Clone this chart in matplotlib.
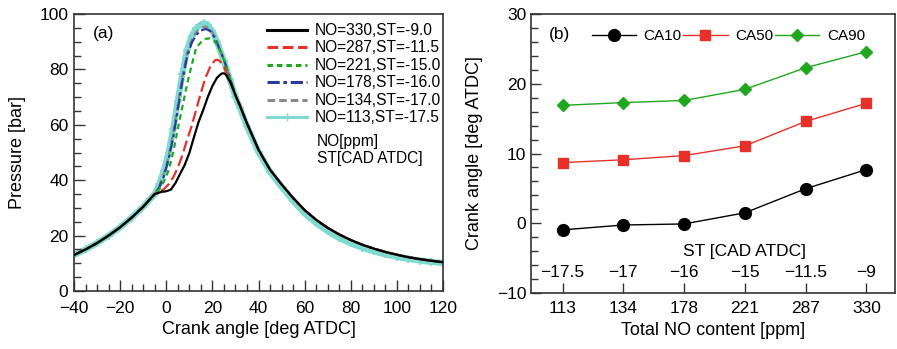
import matplotlib

matplotlib.use("Agg")
import matplotlib.pyplot as plt
from matplotlib.lines import Line2D
from matplotlib.ticker import MultipleLocator
from matplotlib.transforms import blended_transform_factory

plt.rcParams["font.family"] = ["Liberation Sans", "DejaVu Sans"]

# ---- panel (a): pressure traces -------------------------------------------
# shared motored compression part (all cases lie on top of each other)
comp_angle = [-40, -35, -30, -25, -20, -15, -10, -7, -5]
comp_p = [13.0, 15.0, 17.3, 20.0, 23.0, 26.5, 30.4, 33.2, 35.0]

# expansion tail (black, red, green, blue, grey overlap here)
tail_angle = [35, 40, 45, 50, 55, 60, 65, 70, 75, 80, 85, 90, 95, 100, 105, 110, 115, 120]
tail_p = [60.5, 51.0, 43.8, 38.5, 33.6, 29.2, 25.7, 22.8, 20.4, 18.4, 16.7, 15.3, 14.1, 13.1, 12.2, 11.5, 10.9, 10.4]
cyan_tail_p = [59.5, 50.2, 43.0, 37.6, 32.6, 28.0, 24.5, 21.6, 19.1, 17.2, 15.6, 14.3, 13.2, 12.3, 11.6, 11.0, 10.5, 10.1]

no330_angle = [-2, 0, 2, 4, 6, 8, 10, 12, 14, 16, 18, 20, 22, 24, 25, 26, 28, 30, 32]
no330_p = [35.8, 36.0, 36.6, 39.0, 42.3, 45.5, 49.8, 55.5, 61.0, 65.3, 70.0, 74.0, 77.0, 78.5, 78.6, 78.0, 75.0, 70.7, 66.8]

no287_angle = [-3, -1, 1, 3, 5, 7, 9, 11, 13, 15, 17, 19, 21, 22, 23, 25, 27, 30, 32]
no287_p = [35.8, 36.8, 38.5, 41.0, 44.5, 49.0, 54.5, 59.5, 65.5, 71.5, 77.0, 80.8, 83.2, 83.5, 83.2, 81.0, 77.0, 70.7, 66.8]

no221_angle = [-3, -1, 1, 3, 5, 7, 9, 11, 13, 15, 17, 19, 21, 23, 25, 27, 30, 32]
no221_p = [36.8, 39.5, 43.5, 50.0, 58.5, 66.5, 74.5, 81.5, 87.8, 89.8, 91.0, 91.2, 90.3, 87.5, 83.5, 78.5, 70.7, 66.8]

no178_angle = [-3, -1, 1, 3, 5, 7, 9, 11, 13, 15, 17, 19, 21, 23, 25, 27, 30, 32]
no178_p = [37.5, 41.5, 47.5, 55.5, 65.5, 76.0, 84.5, 89.5, 92.5, 94.0, 94.6, 94.0, 91.5, 87.5, 83.5, 78.5, 70.7, 66.8]

no134_angle = [-3, -1, 1, 3, 5, 7, 9, 11, 13, 15, 17, 19, 21, 23, 25, 27, 30, 32]
no134_p = [38.0, 42.5, 48.5, 57.0, 67.0, 77.5, 85.8, 90.8, 93.5, 95.0, 95.5, 94.8, 92.0, 88.0, 83.5, 78.5, 70.7, 66.8]

no113_angle = [-3, -1, 1, 3, 5, 7, 9, 11, 13, 15, 16.5, 18, 20, 22, 25, 27.5, 30, 32]
no113_p = [38.5, 43.5, 50.0, 58.5, 68.5, 78.5, 87.0, 92.0, 94.8, 96.2, 96.6, 96.0, 93.8, 90.0, 83.0, 76.5, 70.0, 66.0]

case_labels = [
    "NO=330,ST=-9.0",
    "NO=287,ST=-11.5",
    "NO=221,ST=-15.0",
    "NO=178,ST=-16.0",
    "NO=134,ST=-17.0",
    "NO=113,ST=-17.5",
]

# ---- panel (b): combustion phasing ----------------------------------------
no_ppm = ["113", "134", "178", "221", "287", "330"]
st_cad = ["\u221217.5", "\u221217", "\u221216", "\u221215", "\u221211.5", "\u22129"]
ca10 = [-0.95, -0.25, -0.1, 1.5, 4.95, 7.7]
ca50 = [8.7, 9.1, 9.7, 11.1, 14.6, 17.2]
ca90 = [16.9, 17.3, 17.6, 19.2, 22.3, 24.6]

RED = "#e8302a"
GREEN = "#1fa81f"
BLUE = "#2b3a9b"
GREY = "#8a8a8a"
CYAN = "#7fdad2"
SPINE = "#333333"
TICK_FS = 12.5
LABEL_FS = 13


def style_axes(ax):
    for side in ax.spines.values():
        side.set_color(SPINE)
        side.set_linewidth(1.2)
    ax.tick_params(which="both", direction="in", top=False, right=False,
                   colors=SPINE, labelcolor="black", labelsize=TICK_FS)
    ax.tick_params(which="major", length=8, width=1.0)
    ax.tick_params(which="minor", length=5, width=1.0)


fig = plt.figure(figsize=(8.97, 3.49), dpi=100)

# ---------------- (a)
ax = fig.add_axes([74 / 897, 58 / 349, 369 / 897, 277 / 349])

cyan_x = comp_angle + no113_angle + tail_angle
cyan_y = comp_p + no113_p + cyan_tail_p
ax.plot(cyan_x, cyan_y, color=CYAN, lw=4.5, solid_capstyle="butt", zorder=1)
ax.plot(cyan_x, cyan_y, color=CYAN, lw=0, marker="+", ms=6, mew=1.2, zorder=1)

ax.plot(comp_angle + no134_angle + tail_angle, comp_p + no134_p + tail_p,
        color=GREY, lw=1.6, dashes=(3, 2), zorder=2)
ax.plot(comp_angle + no178_angle + tail_angle, comp_p + no178_p + tail_p,
        color=BLUE, lw=1.6, dashes=(5, 1.5, 1.5, 1.5), zorder=3)
ax.plot(comp_angle + no221_angle + tail_angle, comp_p + no221_p + tail_p,
        color=GREEN, lw=1.6, dashes=(2.5, 1.8), zorder=4)
ax.plot(comp_angle + no287_angle + tail_angle, comp_p + no287_p + tail_p,
        color=RED, lw=1.6, dashes=(5, 2), zorder=5)
ax.plot(comp_angle + no330_angle + tail_angle, comp_p + no330_p + tail_p,
        color="black", lw=1.6, zorder=6)

ax.set_xlim(-40, 120)
ax.set_ylim(0, 100)
ax.xaxis.set_major_locator(MultipleLocator(20))
ax.xaxis.set_minor_locator(MultipleLocator(5))
ax.yaxis.set_major_locator(MultipleLocator(20))
ax.yaxis.set_minor_locator(MultipleLocator(5))
style_axes(ax)
ax.tick_params(axis="x", pad=7)
ax.tick_params(axis="y", pad=4)
ax.set_xlabel("Crank angle [deg ATDC]", fontsize=LABEL_FS, labelpad=4)
ax.set_ylabel("Pressure [bar]", fontsize=LABEL_FS, labelpad=10)

handles = [
    Line2D([], [], color="black", lw=2.2),
    Line2D([], [], color=RED, lw=2.2, dashes=(3.5, 1.5)),
    Line2D([], [], color=GREEN, lw=2.2, dashes=(1.8, 1.3)),
    Line2D([], [], color=BLUE, lw=2.2, dashes=(4, 1.2, 1.2, 1.2)),
    Line2D([], [], color=GREY, lw=2.2, dashes=(2.5, 1.3)),
    Line2D([], [], color=CYAN, lw=2.2, marker="+", ms=6, markevery=[1]),
]
ax.legend(handles, case_labels, loc="upper left", bbox_to_anchor=(0.505, 0.99),
          frameon=False, fontsize=11.2, handlelength=2.6, handletextpad=0.5,
          labelspacing=0.16, borderaxespad=0.0)
ax.text(0.658, 0.565, "NO[ppm]\nST[CAD ATDC]", transform=ax.transAxes,
        fontsize=11.2, va="top", ha="left", linespacing=1.15)
ax.text(0.05, 0.93, "(a)", transform=ax.transAxes, fontsize=12.5,
        va="center", ha="left")

# ---------------- (b)
bx = fig.add_axes([531 / 897, 56 / 349, 364 / 897, 279 / 349])
pos = list(range(len(no_ppm)))
bx.plot(pos, ca10, color="black", lw=1.0, marker="o", ms=8.5, label="CA10")
bx.plot(pos, ca50, color=RED, lw=1.0, marker="s", ms=7, label="CA50")
bx.plot(pos, ca90, color=GREEN, lw=1.0, marker="D", ms=6.5, label="CA90")

bx.set_xlim(-0.52, 5.47)
bx.set_ylim(-10, 30)
bx.set_xticks(pos)
bx.set_xticklabels(no_ppm)
bx.yaxis.set_major_locator(MultipleLocator(10))
bx.yaxis.set_minor_locator(MultipleLocator(2))
style_axes(bx)
bx.tick_params(axis="x", which="minor", bottom=False)
bx.tick_params(which="major", length=7)
bx.tick_params(axis="x", pad=6)
bx.tick_params(axis="y", pad=3.5)
bx.set_xlabel("Total NO content [ppm]", fontsize=LABEL_FS, labelpad=4)
bx.set_ylabel("Crank angle [deg ATDC]", fontsize=LABEL_FS, labelpad=10)

# spark timing shown as an inner second row of labels
trans = blended_transform_factory(bx.transData, bx.transAxes)
for p, s in zip(pos, st_cad):
    bx.text(p, 0.072, s, transform=trans, fontsize=TICK_FS, ha="center", va="center")
bx.text(3.0, 0.15, "ST [CAD ATDC]", transform=trans, fontsize=TICK_FS,
        ha="center", va="center")

bx.legend(loc="center left", bbox_to_anchor=(0.15, 0.92), ncol=3, frameon=False,
          fontsize=11, handlelength=2.9, handletextpad=0.5, columnspacing=0.1,
          borderaxespad=0.0)
bx.text(0.05, 0.925, "(b)", transform=bx.transAxes, fontsize=12.5,
        va="center", ha="left")

fig.savefig("out.png", dpi=100)
